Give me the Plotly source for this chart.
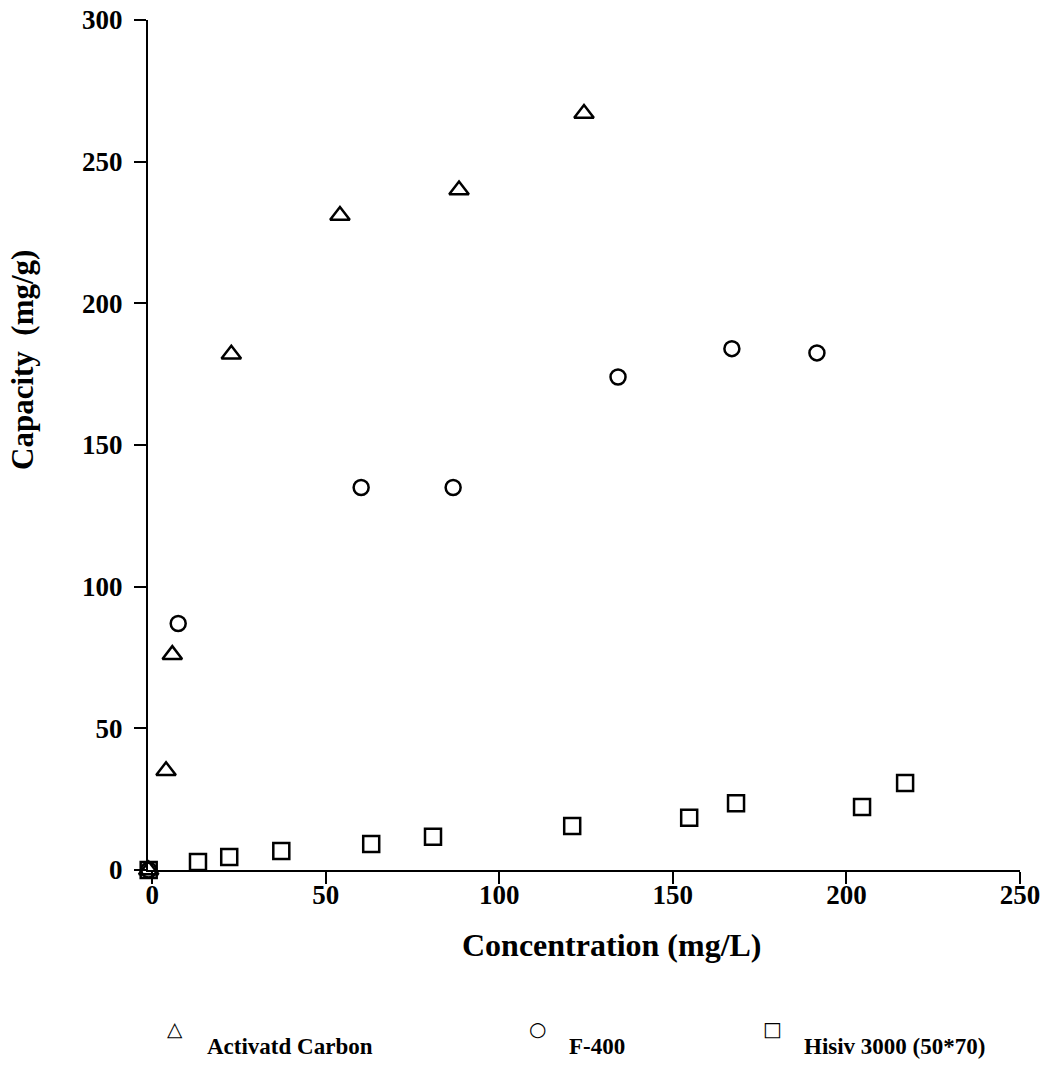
import plotly.graph_objects as go

# Data
ac_x = [-1, 4.0, 5.8, 22.8, 54.1, 88.4, 124.4]
ac_y = [0, 35, 76, 182, 231, 240, 267]

f400_x = [-1, 7.5, 60.2, 86.7, 134.2, 167.0, 191.5]
f400_y = [0, 87, 135, 135, 174, 184, 182.5]

hisiv_x = [-1, 13.2, 22.2, 37.2, 63.1, 80.9, 121.0, 154.7, 168.2, 204.5, 216.9]
hisiv_y = [0, 2.8, 4.6, 6.7, 9.2, 11.7, 15.5, 18.4, 23.6, 22.2, 30.7]

series_names = ["Activatd Carbon", "F-400", "Hisiv 3000 (50*70)"]
x_ticks = [0, 50, 100, 150, 200, 250]
y_ticks = [0, 50, 100, 150, 200, 250, 300]

FONT = "Liberation Serif"
W, H = 1054, 1080
L, R, T, B = 148, 34, 20, 210

fig = go.Figure()
for xs, ys, sym, sz, name in [
    (ac_x, ac_y, "triangle-up-open", 17, series_names[0]),
    (f400_x, f400_y, "circle-open", 15, series_names[1]),
    (hisiv_x, hisiv_y, "square-open", 16, series_names[2]),
]:
    fig.add_trace(go.Scatter(
        x=xs, y=ys, mode="markers", name=name, cliponaxis=False,
        marker=dict(symbol=sym, size=sz, color="black", line=dict(color="black", width=2.5)),
        showlegend=False,
    ))

axis_common = dict(
    showgrid=False, zeroline=False, showline=True, linecolor="black", linewidth=2,
    ticks="outside", ticklen=12, tickwidth=2, tickcolor="black",
    tickfont=dict(family=FONT, size=27, color="black", weight="bold"),
)
fig.update_xaxes(range=[-1.2, 250], tickvals=x_ticks, ticktext=[str(v) for v in x_ticks],
                 ticklabelstandoff=-12, **axis_common)
fig.update_yaxes(range=[0, 300], tickvals=y_ticks, ticktext=[str(v) for v in y_ticks],
                 ticklabelstandoff=6, **axis_common)

pw, ph = W - L - R, H - T - B


def add_text(text, px, py, size, family=FONT, xanchor="center", angle=0):
    fig.add_annotation(
        xref="paper", yref="paper",
        x=(px - L) / pw, y=1 - (py - T) / ph,
        xanchor=xanchor, yanchor="middle", showarrow=False, text=text,
        textangle=angle,
        font=dict(family=family, size=size, color="black"),
    )


add_text("<b>Concentration (mg/L)</b>", 612, 945, 32)
add_text("<b>Capacity  (mg/g)</b>", 22, 360, 31, angle=-90)
add_text("<b>" + series_names[0] + "</b>", 205, 1046, 23, xanchor="left")
add_text("<b>" + series_names[1] + "</b>", 567, 1046, 23, xanchor="left")
add_text("<b>" + series_names[2] + "</b>", 802, 1046, 23, xanchor="left")
for ch, px in [("\u25b3", 175), ("\u25cb", 537), ("\u25a1", 772)]:
    add_text(ch, px, 1029, 20, family="DejaVu Sans")

fig.update_layout(
    width=W, height=H,
    margin=dict(l=L, r=R, t=T, b=B, autoexpand=False),
    paper_bgcolor="white", plot_bgcolor="white",
    showlegend=False,
)

fig.write_html("out.html")
